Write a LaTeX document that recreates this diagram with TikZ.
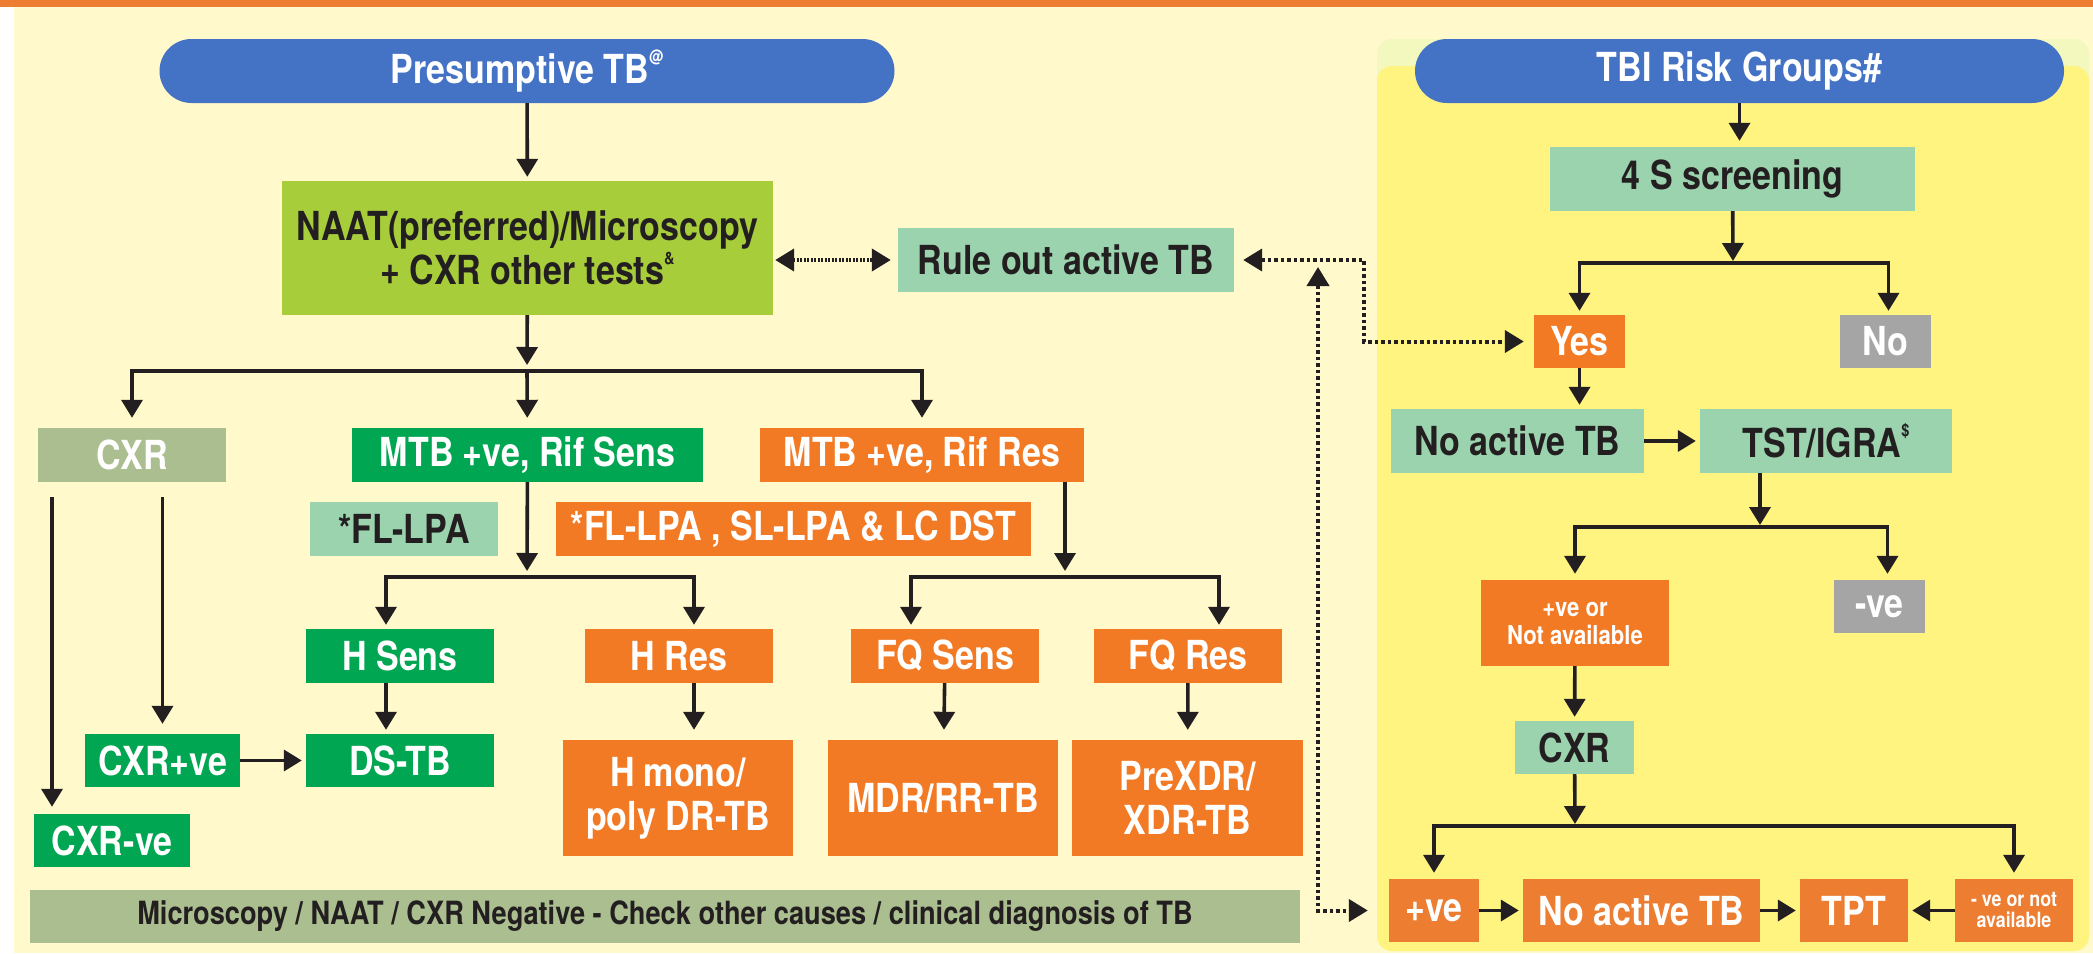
\documentclass[tikz,border=0pt]{standalone}
\usepackage{fontspec}
\setmainfont{TeX Gyre Heros}[FakeStretch=0.85]
\usetikzlibrary{arrows.meta}
\usetikzlibrary{positioning}

\definecolor{topbar}{HTML}{ED7D31}
\definecolor{paleyellow}{HTML}{FFF9CC}
\definecolor{panelyellow}{HTML}{FFF480}
\definecolor{panelband}{HTML}{F3F8BF}
\definecolor{pillblue}{HTML}{4472C4}
\definecolor{naatgreen}{HTML}{A7CE3A}
\definecolor{mint}{HTML}{9BD3AE}
\definecolor{dsgreen}{HTML}{00A651}
\definecolor{drorange}{HTML}{F37A24}
\definecolor{tptorange}{HTML}{EC7D31}
\definecolor{sage}{HTML}{ABBE8F}
\definecolor{nogrey}{HTML}{A5A5A5}
\definecolor{ink}{HTML}{231F20}

\newcommand{\note}[1]{\raisebox{0.95ex}{\fontsize{17}{17}\selectfont #1}}

\tikzset{
    box/.style={rectangle, inner sep=0pt, align=center, font=\fontsize{40}{44}\selectfont\bfseries},
    pill/.style={box, fill=pillblue, text=white, rounded corners=32pt, minimum height=64pt},
    lightbox/.style={box, fill=mint, text=ink},
    greenbox/.style={box, fill=dsgreen, text=white},
    orangebox/.style={box, fill=drorange, text=white},
    tptbox/.style={box, fill=tptorange, text=white},
    greybox/.style={box, fill=nogrey, text=white},
    arr/.style={-{Triangle[width=21pt,length=18pt]}, line width=3.6pt, draw=ink, shorten >=4pt},
    dotarr/.style={{Triangle[width=22pt,length=19pt]}-{Triangle[width=22pt,length=19pt]}, line width=4pt, draw=ink, dash pattern=on 3.5pt off 3pt},
}

\begin{document}
\begin{tikzpicture}[x=1pt, y=-1pt]
    \useasboundingbox (0, 0) rectangle (2093, 953);
    % background and panels
    \fill[white] (0, 0) rectangle (2093, 953);
    \fill[paleyellow] (14, 7) rectangle (2093, 953);
    \fill[topbar] (0, 0) rectangle (2093, 7);
    \fill[panelband, rounded corners=15pt] (1377, 39) rectangle (2089, 951);
    \fill[panelyellow, rounded corners=15pt] (1377, 66) rectangle (2089, 951);

    % presumptive TB side
    \draw (527, 71) node[pill, minimum width=735pt] (pres) {Presumptive TB\note{@}};
    \draw (527.5, 248) node[box, fill=naatgreen, text=ink, minimum width=491pt, minimum height=134pt] (naat) {NAAT(preferred)/Microscopy\\+ CXR other tests\note{\&}};
    \draw (1066, 260) node[lightbox, minimum width=336pt, minimum height=64pt] (ruleout) {Rule out active TB};

    \draw (132, 455) node[box, fill=sage, text=white, minimum width=188pt, minimum height=54pt] (cxr) {CXR};
    \draw (527.5, 455) node[greenbox, minimum width=351pt, minimum height=54pt] (rifsens) {MTB +ve, Rif Sens};
    \draw (922, 455) node[orangebox, minimum width=324pt, minimum height=54pt] (rifres) {MTB +ve, Rif Res};
    \draw (404, 529) node[lightbox, minimum width=188pt, minimum height=54pt] (fllpa) {*FL-LPA};
    \draw (793.5, 529) node[orangebox, minimum width=475pt, minimum height=54pt] (lcdst) {*FL-LPA , SL-LPA \& LC DST};

    \draw (400, 656) node[greenbox, minimum width=188pt, minimum height=54pt] (hsens) {H Sens};
    \draw (679, 656) node[orangebox, minimum width=188pt, minimum height=54pt] (hres) {H Res};
    \draw (945, 656) node[orangebox, minimum width=188pt, minimum height=54pt] (fqsens) {FQ Sens};
    \draw (1188, 656) node[orangebox, minimum width=188pt, minimum height=54pt] (fqres) {FQ Res};

    \draw (162.5, 760.5) node[greenbox, minimum width=155pt, minimum height=53pt] (cxrpos) {CXR+ve};
    \draw (400, 760.5) node[greenbox, minimum width=188pt, minimum height=53pt] (dstb) {DS-TB};
    \draw (112, 840.5) node[greenbox, minimum width=156pt, minimum height=53pt] (cxrneg) {CXR-ve};
    \draw (678, 798) node[orangebox, minimum width=230pt, minimum height=116pt] (hmono) {H mono/\\poly DR-TB};
    \draw (943, 798) node[orangebox, minimum width=230pt, minimum height=116pt] (mdr) {MDR/RR-TB};
    \draw (1187.5, 798) node[orangebox, minimum width=231pt, minimum height=116pt] (prexdr) {PreXDR/\\XDR-TB};
    \draw (665, 916.5) node[box, fill=sage, text=ink, minimum width=1270pt, minimum height=53pt, font=\fontsize{32}{34}\selectfont\bfseries] (negbar) {Microscopy / NAAT / CXR Negative - Check other causes / clinical diagnosis of TB};

    \coordinate (split) at (527, 371);
    \coordinate (hsplit) at (527, 577);
    \coordinate (fqsplit) at (1065, 577);

    \draw[arr] (pres) -- (naat);
    \draw[arr, shorten >=6pt] (naat) -- (split);
    \draw[arr, shorten >=10pt] (split) -| (cxr);
    \draw[arr, shorten >=10pt] (split) -- (rifsens);
    \draw[arr, shorten >=10pt] (split) -| (rifres);

    \draw[arr, shorten <=15pt, shorten >=7pt] ([xshift=-60pt]cxrneg.north |- cxr.south) -- ([xshift=-60pt]cxrneg.north);
    \draw[arr, shorten <=15pt, shorten >=10pt] (cxrpos.north |- cxr.south) -- (cxrpos.north);
    \draw[arr] (cxrpos) -- (dstb);

    \draw[arr, shorten >=6pt] (rifsens) -- (hsplit);
    \draw[arr] (hsplit) -| ([xshift=-14pt]hsens.north);
    \draw[arr] (hsplit) -| ([xshift=15pt]hres.north);
    \draw[arr] ([xshift=-14pt]hsens.south) -- ([xshift=-14pt]dstb.north);
    \draw[arr, shorten >=10pt] ([xshift=15pt]hres.south) -- ([xshift=15pt]hres.south |- hmono.north);

    \draw[arr, shorten >=6pt] ([xshift=143pt]rifres.south) -- (fqsplit);
    \draw[arr] (fqsplit) -| ([xshift=-34pt]fqsens.north);
    \draw[arr] (fqsplit) -| ([xshift=31pt]fqres.north);
    \foreach \from/\to in {fqsens/mdr, fqres/prexdr}{
        \draw[arr, shorten >=10pt] (\from) -- (\to);
    }

    % TBI risk group side
    \draw (1739.5, 71) node[pill, minimum width=649pt] (tbi) {TBI Risk Groups\#};
    \draw (1732.5, 179) node[lightbox, minimum width=365pt, minimum height=64pt] (screen) {4 S screening};
    \draw (1579.5, 341.5) node[orangebox, minimum width=91pt, minimum height=53pt] (yes) {Yes};
    \draw (1885.5, 341.5) node[greybox, minimum width=91pt, minimum height=53pt] (no) {No};
    \draw (1517.5, 441) node[lightbox, minimum width=253pt, minimum height=64pt] (noact) {No active TB};
    \draw (1826, 441) node[lightbox, minimum width=252pt, minimum height=64pt] (tst) {TST/IGRA\note{\$}};
    \draw (1575, 623) node[orangebox, minimum width=188pt, minimum height=86pt, font=\fontsize{26}{28}\selectfont\bfseries] (posna) {+ve or\\Not available};
    \draw (1879.5, 606.5) node[greybox, minimum width=91pt, minimum height=53pt] (neg) {-ve};
    \draw (1574.5, 747.5) node[lightbox, minimum width=119pt, minimum height=53pt] (cxrtwo) {CXR};
    \draw (1434, 910.5) node[tptbox, minimum width=90pt, minimum height=63pt] (pos) {+ve};
    \draw (1641.5, 910.5) node[tptbox, minimum width=237pt, minimum height=63pt] (noacttwo) {No active TB};
    \draw (1854, 910.5) node[tptbox, minimum width=108pt, minimum height=63pt] (tpt) {TPT};
    \draw (2014, 910.5) node[tptbox, minimum width=118pt, minimum height=63pt, font=\fontsize{21}{21}\selectfont\bfseries] (negna) {- ve or not\\available};

    \coordinate (ssplit) at (1733, 263);
    \coordinate (tsplit) at (1760, 527);
    \coordinate (csplit) at (1575, 826);

    \draw[arr, shorten >=6pt] (tbi.south) -- (tbi.south |- screen.north);
    \draw[arr, shorten >=2pt] (screen) -- (ssplit);
    \draw[arr] (ssplit) -| (yes);
    \draw[arr] (ssplit) -| ([xshift=3pt]no.north);
    \draw[arr] (yes) -- (yes |- noact.north);
    \draw[arr] (noact) -- (tst);
    \draw[arr, shorten >=2pt] ([xshift=-66pt]tst.south) -- (tsplit);
    \draw[arr, shorten >=6pt] (tsplit) -| (posna);
    \draw[arr, shorten >=6pt] (tsplit) -| ([xshift=8pt]neg.north);
    \draw[arr] (posna) -- (cxrtwo);
    \draw[arr, shorten >=2pt] (cxrtwo) -- (csplit);
    \draw[arr, shorten >=6pt] (csplit) -| (pos);
    \draw[arr, shorten >=6pt] (csplit) -| (negna);
    \foreach \from/\to in {pos/noacttwo, noacttwo/tpt, negna/tpt}{
        \draw[arr] (\from) -- (\to);
    }

    % dotted links between the two sides
    \coordinate (loopup) at (1318, 267);
    \draw[dotarr, dash pattern=on 2pt off 1.5pt, shorten <=2pt, shorten >=7pt] (naat.east |- ruleout) -- (ruleout);
    \draw[dotarr, shorten <=9pt, shorten >=10pt] (ruleout.east) -- ++(130, 0) |- (yes);
    \draw[dotarr, shorten >=21pt] (loopup) |- (pos);
\end{tikzpicture}
\end{document}
